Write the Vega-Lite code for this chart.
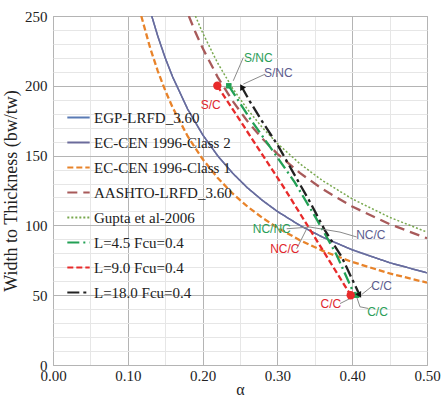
{
  "$schema": "https://vega.github.io/schema/vega-lite/v6.json",
  "width": 374,
  "height": 349,
  "autosize": {"type": "none"},
  "padding": {"left": 53, "top": 16, "right": 16, "bottom": 33},
  "background": "white",
  "config": {
    "view": {"stroke": "#a8a8a8", "strokeWidth": 1},
    "font": "Liberation Serif"
  },
  "datasets": {
    "lines": [
      {"s": "EGP-LRFD_3.60", "a": 0.132, "v": 250}, {"s": "EGP-LRFD_3.60", "a": 0.14, "v": 235.7}, {"s": "EGP-LRFD_3.60", "a": 0.15, "v": 220}, {"s": "EGP-LRFD_3.60", "a": 0.16, "v": 206.3}, {"s": "EGP-LRFD_3.60", "a": 0.18, "v": 183.3}, {"s": "EGP-LRFD_3.60", "a": 0.2, "v": 165}, {"s": "EGP-LRFD_3.60", "a": 0.22, "v": 150}, {"s": "EGP-LRFD_3.60", "a": 0.24, "v": 137.5}, {"s": "EGP-LRFD_3.60", "a": 0.26, "v": 126.9}, {"s": "EGP-LRFD_3.60", "a": 0.28, "v": 117.9}, {"s": "EGP-LRFD_3.60", "a": 0.3, "v": 110}, {"s": "EGP-LRFD_3.60", "a": 0.33, "v": 100}, {"s": "EGP-LRFD_3.60", "a": 0.36, "v": 91.7}, {"s": "EGP-LRFD_3.60", "a": 0.4, "v": 82.5}, {"s": "EGP-LRFD_3.60", "a": 0.45, "v": 73.3}, {"s": "EGP-LRFD_3.60", "a": 0.5, "v": 66},
      {"s": "EC-CEN 1996-Class 2", "a": 0.132, "v": 250}, {"s": "EC-CEN 1996-Class 2", "a": 0.14, "v": 235.7}, {"s": "EC-CEN 1996-Class 2", "a": 0.15, "v": 220}, {"s": "EC-CEN 1996-Class 2", "a": 0.16, "v": 206.3}, {"s": "EC-CEN 1996-Class 2", "a": 0.18, "v": 183.3}, {"s": "EC-CEN 1996-Class 2", "a": 0.2, "v": 165}, {"s": "EC-CEN 1996-Class 2", "a": 0.22, "v": 150}, {"s": "EC-CEN 1996-Class 2", "a": 0.24, "v": 137.5}, {"s": "EC-CEN 1996-Class 2", "a": 0.26, "v": 126.9}, {"s": "EC-CEN 1996-Class 2", "a": 0.28, "v": 117.9}, {"s": "EC-CEN 1996-Class 2", "a": 0.3, "v": 110}, {"s": "EC-CEN 1996-Class 2", "a": 0.33, "v": 100}, {"s": "EC-CEN 1996-Class 2", "a": 0.36, "v": 91.7}, {"s": "EC-CEN 1996-Class 2", "a": 0.4, "v": 82.5}, {"s": "EC-CEN 1996-Class 2", "a": 0.45, "v": 73.3}, {"s": "EC-CEN 1996-Class 2", "a": 0.5, "v": 66},
      {"s": "EC-CEN 1996-Class 1", "a": 0.118, "v": 250}, {"s": "EC-CEN 1996-Class 1", "a": 0.13, "v": 226.9}, {"s": "EC-CEN 1996-Class 1", "a": 0.14, "v": 210.7}, {"s": "EC-CEN 1996-Class 1", "a": 0.15, "v": 196.7}, {"s": "EC-CEN 1996-Class 1", "a": 0.16, "v": 184.4}, {"s": "EC-CEN 1996-Class 1", "a": 0.18, "v": 163.9}, {"s": "EC-CEN 1996-Class 1", "a": 0.2, "v": 147.5}, {"s": "EC-CEN 1996-Class 1", "a": 0.22, "v": 134.1}, {"s": "EC-CEN 1996-Class 1", "a": 0.24, "v": 122.9}, {"s": "EC-CEN 1996-Class 1", "a": 0.26, "v": 113.5}, {"s": "EC-CEN 1996-Class 1", "a": 0.28, "v": 105.4}, {"s": "EC-CEN 1996-Class 1", "a": 0.3, "v": 98.3}, {"s": "EC-CEN 1996-Class 1", "a": 0.33, "v": 89.4}, {"s": "EC-CEN 1996-Class 1", "a": 0.36, "v": 81.9}, {"s": "EC-CEN 1996-Class 1", "a": 0.4, "v": 73.8}, {"s": "EC-CEN 1996-Class 1", "a": 0.45, "v": 65.6}, {"s": "EC-CEN 1996-Class 1", "a": 0.5, "v": 59},
      {"s": "AASHTO-LRFD_3.60", "a": 0.1816, "v": 250}, {"s": "AASHTO-LRFD_3.60", "a": 0.19, "v": 238.9}, {"s": "AASHTO-LRFD_3.60", "a": 0.2, "v": 227}, {"s": "AASHTO-LRFD_3.60", "a": 0.22, "v": 206.4}, {"s": "AASHTO-LRFD_3.60", "a": 0.24, "v": 189.2}, {"s": "AASHTO-LRFD_3.60", "a": 0.26, "v": 174.6}, {"s": "AASHTO-LRFD_3.60", "a": 0.28, "v": 162.1}, {"s": "AASHTO-LRFD_3.60", "a": 0.3, "v": 151.3}, {"s": "AASHTO-LRFD_3.60", "a": 0.33, "v": 137.6}, {"s": "AASHTO-LRFD_3.60", "a": 0.36, "v": 126.1}, {"s": "AASHTO-LRFD_3.60", "a": 0.4, "v": 113.5}, {"s": "AASHTO-LRFD_3.60", "a": 0.45, "v": 100.9}, {"s": "AASHTO-LRFD_3.60", "a": 0.5, "v": 90.8},
      {"s": "Gupta et al-2006", "a": 0.1904, "v": 250}, {"s": "Gupta et al-2006", "a": 0.2, "v": 238}, {"s": "Gupta et al-2006", "a": 0.22, "v": 216.4}, {"s": "Gupta et al-2006", "a": 0.24, "v": 198.3}, {"s": "Gupta et al-2006", "a": 0.26, "v": 183.1}, {"s": "Gupta et al-2006", "a": 0.28, "v": 170}, {"s": "Gupta et al-2006", "a": 0.3, "v": 158.7}, {"s": "Gupta et al-2006", "a": 0.33, "v": 144.2}, {"s": "Gupta et al-2006", "a": 0.36, "v": 132.2}, {"s": "Gupta et al-2006", "a": 0.4, "v": 119}, {"s": "Gupta et al-2006", "a": 0.45, "v": 105.8}, {"s": "Gupta et al-2006", "a": 0.5, "v": 95.2},
      {"s": "L=4.5 Fcu=0.4", "a": 0.235, "v": 200}, {"s": "L=4.5 Fcu=0.4", "a": 0.264, "v": 176}, {"s": "L=4.5 Fcu=0.4", "a": 0.297, "v": 151}, {"s": "L=4.5 Fcu=0.4", "a": 0.323, "v": 131}, {"s": "L=4.5 Fcu=0.4", "a": 0.353, "v": 104}, {"s": "L=4.5 Fcu=0.4", "a": 0.379, "v": 79}, {"s": "L=4.5 Fcu=0.4", "a": 0.4, "v": 54}, {"s": "L=4.5 Fcu=0.4", "a": 0.406, "v": 50},
      {"s": "L=9.0 Fcu=0.4", "a": 0.2197, "v": 200}, {"s": "L=9.0 Fcu=0.4", "a": 0.31, "v": 126}, {"s": "L=9.0 Fcu=0.4", "a": 0.398, "v": 50},
      {"s": "L=18.0 Fcu=0.4", "a": 0.2522, "v": 199.3}, {"s": "L=18.0 Fcu=0.4", "a": 0.263, "v": 189}, {"s": "L=18.0 Fcu=0.4", "a": 0.279, "v": 175}, {"s": "L=18.0 Fcu=0.4", "a": 0.301, "v": 157}, {"s": "L=18.0 Fcu=0.4", "a": 0.321, "v": 138}, {"s": "L=18.0 Fcu=0.4", "a": 0.3436, "v": 116.7}, {"s": "L=18.0 Fcu=0.4", "a": 0.3636, "v": 96.4}, {"s": "L=18.0 Fcu=0.4", "a": 0.386, "v": 77.4}, {"s": "L=18.0 Fcu=0.4", "a": 0.41, "v": 50}
    ],
    "ends": [
      {"s": "L=4.5 Fcu=0.4", "k": "start", "a": 0.235, "v": 200},
      {"s": "L=4.5 Fcu=0.4", "k": "end", "a": 0.406, "v": 50},
      {"s": "L=9.0 Fcu=0.4", "k": "start", "a": 0.2197, "v": 200},
      {"s": "L=9.0 Fcu=0.4", "k": "end", "a": 0.398, "v": 50},
      {"s": "L=18.0 Fcu=0.4", "k": "start", "a": 0.2522, "v": 199.3},
      {"s": "L=18.0 Fcu=0.4", "k": "end", "a": 0.41, "v": 50}
    ],
    "leaders": [
      {"id": 1, "o": 1, "a": 0.2544, "v": 220.2}, {"id": 1, "o": 2, "a": 0.241, "v": 203.6},
      {"id": 2, "o": 1, "a": 0.2834, "v": 208.3}, {"id": 2, "o": 2, "a": 0.2544, "v": 201.2},
      {"id": 3, "o": 1, "a": 0.3124, "v": 97.6}, {"id": 3, "o": 2, "a": 0.3436, "v": 98.8},
      {"id": 4, "o": 1, "a": 0.3258, "v": 83.3}, {"id": 4, "o": 2, "a": 0.3392, "v": 97.6},
      {"id": 5, "o": 1, "a": 0.406, "v": 91.7}, {"id": 5, "o": 2, "a": 0.3837, "v": 95.2}, {"id": 5, "o": 3, "a": 0.3436, "v": 98.8},
      {"id": 6, "o": 1, "a": 0.4282, "v": 57.1}, {"id": 6, "o": 2, "a": 0.4127, "v": 50.5},
      {"id": 7, "o": 1, "a": 0.3837, "v": 44}, {"id": 7, "o": 2, "a": 0.397, "v": 47.6},
      {"id": 8, "o": 1, "a": 0.406, "v": 48.8}, {"id": 8, "o": 2, "a": 0.4104, "v": 41.7}, {"id": 8, "o": 3, "a": 0.4215, "v": 40.5}
    ],
    "labels": [
      {"t": "S/NC", "g": "green", "a": 0.2745, "v": 220.2},
      {"t": "S/NC", "g": "blue", "a": 0.3012, "v": 209},
      {"t": "S/C", "g": "red", "a": 0.2108, "v": 186.4},
      {"t": "NC/NC", "g": "green", "a": 0.2924, "v": 97.6},
      {"t": "NC/C", "g": "red", "a": 0.31, "v": 82.9},
      {"t": "NC/C", "g": "blue", "a": 0.4249, "v": 92.9},
      {"t": "C/C", "g": "blue", "a": 0.4394, "v": 56.8},
      {"t": "C/C", "g": "red", "a": 0.3714, "v": 44},
      {"t": "C/C", "g": "green", "a": 0.4338, "v": 38}
    ]
  },
  "encoding": {
    "x": {
      "field": "a", "type": "quantitative",
      "scale": {"domain": [0, 0.5], "nice": false, "zero": false},
      "axis": {
        "title": "α",
        "values": [0, 0.05, 0.1, 0.15, 0.2, 0.25, 0.3, 0.35, 0.4, 0.45, 0.5],
        "labelExpr": "abs(datum.value*10 - round(datum.value*10)) < 0.001 ? format(datum.value, '.2f') : ''",
        "labelFlush": false, "labelOverlap": false, "labelBound": false,
        "labelFont": "Liberation Serif", "labelFontSize": 15, "labelColor": "#222",
        "labelPadding": 3,
        "titleFont": "Liberation Serif", "titleFontSize": 16, "titleFontWeight": "normal", "titleColor": "#222", "titlePadding": -2,
        "ticks": false, "domain": false,
        "grid": true,
        "gridColor": {"condition": {"test": "abs(datum.value*10 - round(datum.value*10)) < 0.001", "value": "#b4b4b4"}, "value": "#e6e6e6"},
        "gridWidth": 1
      }
    },
    "y": {
      "field": "v", "type": "quantitative",
      "scale": {"domain": [0, 250], "nice": false},
      "axis": {
        "title": "Width to Thickness (bw/tw)",
        "values": [0, 10, 20, 30, 40, 50, 60, 70, 80, 90, 100, 110, 120, 130, 140, 150, 160, 170, 180, 190, 200, 210, 220, 230, 240, 250],
        "labelExpr": "datum.value % 50 === 0 ? datum.label : ''",
        "labelOverlap": false, "labelBound": false, "labelFlush": false,
        "labelFont": "Liberation Serif", "labelFontSize": 15, "labelColor": "#222",
        "labelPadding": 6,
        "titleFont": "Liberation Serif", "titleFontSize": 18, "titleFontWeight": "normal", "titleColor": "#222", "titlePadding": 4,
        "ticks": false, "domain": false,
        "grid": true,
        "gridColor": {"condition": {"test": "datum.value % 50 === 0", "value": "#b4b4b4"}, "value": "#e6e6e6"},
        "gridWidth": 1
      }
    }
  },
  "layer": [
    {
      "data": {"name": "lines"},
      "mark": {"type": "line", "clip": true},
      "encoding": {
        "color": {
          "field": "s", "type": "nominal",
          "scale": {
            "domain": ["EGP-LRFD_3.60", "EC-CEN 1996-Class 2", "EC-CEN 1996-Class 1", "AASHTO-LRFD_3.60", "Gupta et al-2006", "L=4.5 Fcu=0.4", "L=9.0 Fcu=0.4", "L=18.0 Fcu=0.4"],
            "range": ["#5a7bb5", "#6b6b9b", "#e8832a", "#a85a5a", "#78a84e", "#22a055", "#e82a2a", "#222222"]
          },
          "legend": {
            "title": null,
            "orient": "none", "legendX": 13, "legendY": 89,
            "padding": 0,
            "symbolType": "stroke", "symbolSize": 500, "symbolStrokeWidth": 2,
            "labelFont": "Liberation Serif", "labelFontSize": 15, "labelColor": "#222",
            "labelOffset": 3, "rowPadding": 4, "labelLimit": 300
          }
        },
        "strokeDash": {
          "field": "s", "type": "nominal",
          "scale": {
            "domain": ["EGP-LRFD_3.60", "EC-CEN 1996-Class 2", "EC-CEN 1996-Class 1", "AASHTO-LRFD_3.60", "Gupta et al-2006", "L=4.5 Fcu=0.4", "L=9.0 Fcu=0.4", "L=18.0 Fcu=0.4"],
            "range": [[1, 0], [1, 0], [6, 3], [10, 6], [2, 2], [12, 4, 2, 4], [6, 3], [12, 4, 3, 4]]
          }
        },
        "strokeWidth": {
          "condition": {"test": "indexof(['EGP-LRFD_3.60','EC-CEN 1996-Class 2','Gupta et al-2006'], datum.s) >= 0", "value": 1.5},
          "value": 2.3
        }
      }
    },
    {
      "data": {"name": "leaders"},
      "mark": {"type": "line", "color": "#8a8a8a", "strokeWidth": 1, "clip": true},
      "encoding": {
        "detail": {"field": "id", "type": "nominal"},
        "order": {"field": "o", "type": "quantitative"}
      }
    },
    {
      "data": {"name": "ends"},
      "transform": [{"filter": "datum.s !== 'L=18.0 Fcu=0.4'"}],
      "mark": {"type": "point", "filled": true, "opacity": 1},
      "encoding": {
        "color": {"condition": {"test": "datum.s === 'L=4.5 Fcu=0.4'", "value": "#22a055"}, "value": "#e82a2a"},
        "shape": {"condition": {"test": "datum.s === 'L=4.5 Fcu=0.4'", "value": "square"}, "value": "circle"},
        "size": {"condition": {"test": "datum.s === 'L=4.5 Fcu=0.4'", "value": 30}, "value": 70}
      }
    },
    {
      "data": {"name": "ends"},
      "transform": [{"filter": "datum.s === 'L=18.0 Fcu=0.4'"}],
      "mark": {"type": "point", "filled": true, "opacity": 1, "shape": "triangle-up", "size": 45, "color": "#111"},
      "encoding": {
        "angle": {"condition": {"test": "datum.k === 'start'", "value": 330}, "value": 150}
      }
    },
    {
      "data": {"name": "labels"},
      "mark": {"type": "text", "font": "Liberation Sans", "fontSize": 12, "align": "center", "baseline": "middle"},
      "encoding": {
        "text": {"field": "t"},
        "color": {
          "condition": [
            {"test": "datum.g === 'green'", "value": "#2a9e58"},
            {"test": "datum.g === 'red'", "value": "#e0262c"}
          ],
          "value": "#5c5c8e"
        }
      }
    }
  ]
}
